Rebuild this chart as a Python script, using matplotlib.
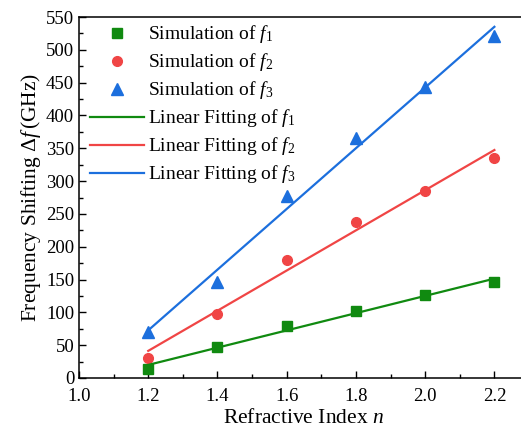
import matplotlib.pyplot as plt
import numpy as np

plt.rcParams['font.family'] = ['Liberation Serif', 'DejaVu Serif']
plt.rcParams['mathtext.fontset'] = 'custom'
plt.rcParams['mathtext.rm'] = 'Liberation Serif'
plt.rcParams['mathtext.it'] = 'Liberation Serif:italic'

# refractive index and simulated frequency shifts (GHz)
n = [1.2, 1.4, 1.6, 1.8, 2.0, 2.2]
f1 = [14, 47, 79, 102, 126, 146]
f2 = [31, 97, 180, 238, 285, 335]
f3 = [70, 146, 277, 365, 444, 521]

colors = ['#108a10', '#f04545', '#1c6fdd']
markers = ['s', 'o', '^']
msizes = [6.5, 7, 8]

fig = plt.figure(figsize=(5.21, 4.32), dpi=100)
ax = fig.add_axes([79 / 521, 1 - 378 / 432, 450 / 521, 361 / 432])

x = np.array(n)
for i, y in enumerate([f1, f2, f3]):
    ax.plot(n, y, linestyle='none', marker=markers[i], ms=msizes[i],
            color=colors[i], label=f'Simulation of $f_{i + 1}$')
for i, y in enumerate([f1, f2, f3]):
    k, b = np.polyfit(x, y, 1)
    ax.plot(x, k * x + b, color=colors[i], lw=1.6,
            label=f'Linear Fitting of $f_{i + 1}$')

ax.set_xlim(1.0, 2.3)
ax.set_ylim(0, 550)
ax.set_xticks(np.arange(1.0, 2.21, 0.2))
ax.set_xticks(np.arange(1.1, 2.31, 0.2), minor=True)
ax.set_yticks(np.arange(0, 551, 50))
ax.set_yticks(np.arange(25, 550, 50), minor=True)
ax.set_xticklabels([f'{v:.1f}' for v in np.arange(1.0, 2.21, 0.2)])
ax.tick_params(which='both', direction='in', labelsize=13.5)
ax.tick_params(axis='x', pad=7)
ax.tick_params(which='major', length=5, width=1)
ax.tick_params(which='minor', length=3, width=1)
for s in ax.spines.values():
    s.set_linewidth(1.1)

ax.set_xlabel('Refractive Index $n$', fontsize=15.5, labelpad=3)
ax.set_ylabel(r'Frequency Shifting $\Delta f\,$(GHz)', fontsize=15.5, labelpad=2)

ax.legend(loc='upper left', frameon=False, fontsize=14, handlelength=2.75,
          labelspacing=0.31, borderaxespad=0.0, handletextpad=0.2,
          bbox_to_anchor=(0.008, 1.004))

fig.savefig('out.png', dpi=100)
